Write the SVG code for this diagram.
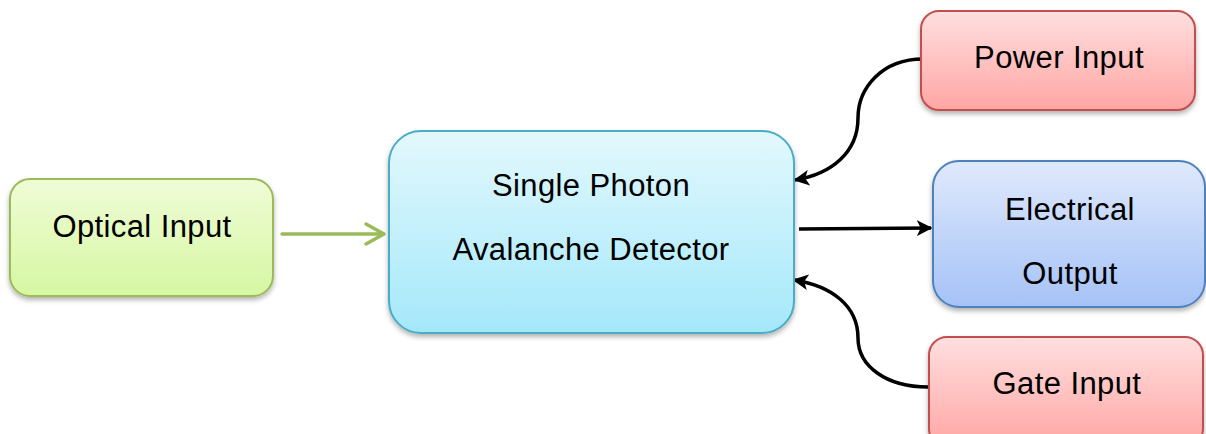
<svg xmlns="http://www.w3.org/2000/svg" width="1206" height="434" viewBox="0 0 1206 434">
<defs>
<linearGradient id="gGreen" x1="0" y1="0" x2="0" y2="1"><stop offset="0" stop-color="#effcd6"/><stop offset="1" stop-color="#d6f7a2"/></linearGradient>
<linearGradient id="gCyan" x1="0" y1="0" x2="0" y2="1"><stop offset="0" stop-color="#e3f8fd"/><stop offset="1" stop-color="#a4e8fa"/></linearGradient>
<linearGradient id="gRed" x1="0" y1="0" x2="0" y2="1"><stop offset="0" stop-color="#ffdfdf"/><stop offset="1" stop-color="#ffa6a4"/></linearGradient>
<linearGradient id="gBlue" x1="0" y1="0" x2="0" y2="1"><stop offset="0" stop-color="#dfe9fc"/><stop offset="1" stop-color="#a5c2f7"/></linearGradient>
<filter id="shadow" x="-10%" y="-10%" width="120%" height="130%"><feDropShadow dx="0" dy="3" stdDeviation="2.5" flood-color="#000" flood-opacity="0.3"/></filter>
<marker id="arrBlack" viewBox="0 0 10 10" refX="9" refY="5" markerWidth="4.5" markerHeight="4.5" orient="auto" markerUnits="strokeWidth"><path d="M0,0 L10,5 L0,10 L2.5,5 Z" fill="#000"/></marker>
</defs>
<style>
text{font-family:"Liberation Sans",Arial,sans-serif;font-size:31px;fill:#000;text-anchor:middle;letter-spacing:0.4px}
.box{filter:url(#shadow);stroke-width:2}
.conn{fill:none;stroke:#000;stroke-width:3.5}
.green{fill:none;stroke:#9bbb59;stroke-width:3.5;stroke-linecap:round;stroke-linejoin:round}
</style>
<g id="connectors">
<path class="green" d="M282,234 L381,234"/>
<path class="green" d="M366,224 L384,234 L366,244"/>
<path class="conn" d="M799,229 L931,228" marker-end="url(#arrBlack)"/>
<path class="conn" d="M923,59 C882,59 858,88 858,118 C858,152 832,174 795,180" marker-end="url(#arrBlack)"/>
<path class="conn" d="M928,387 C886,387 858,366 858,338 C858,306 832,286 794,280" marker-end="url(#arrBlack)"/>
</g>
<g id="optical-input">
<rect class="box" x="10" y="179" width="263" height="117" rx="20" fill="url(#gGreen)" stroke="#9bbb59"/>
<text x="142" y="237">Optical Input</text>
</g>
<g id="spad">
<rect class="box" x="389" y="131" width="405" height="202" rx="32" fill="url(#gCyan)" stroke="#4bacc6"/>
<text x="591" y="196">Single Photon</text>
<text x="591" y="260">Avalanche Detector</text>
</g>
<g id="power-input">
<rect class="box" x="921" y="11" width="274" height="99" rx="18" fill="url(#gRed)" stroke="#c0504d"/>
<text x="1059" y="68">Power Input</text>
</g>
<g id="electrical-output">
<rect class="box" x="933" y="161" width="272" height="146" rx="26" fill="url(#gBlue)" stroke="#4f81bd"/>
<text x="1070" y="220">Electrical</text>
<text x="1070" y="284">Output</text>
</g>
<g id="gate-input">
<rect class="box" x="929" y="337" width="274" height="110" rx="18" fill="url(#gRed)" stroke="#c0504d"/>
<text x="1067" y="394">Gate Input</text>
</g>
</svg>
